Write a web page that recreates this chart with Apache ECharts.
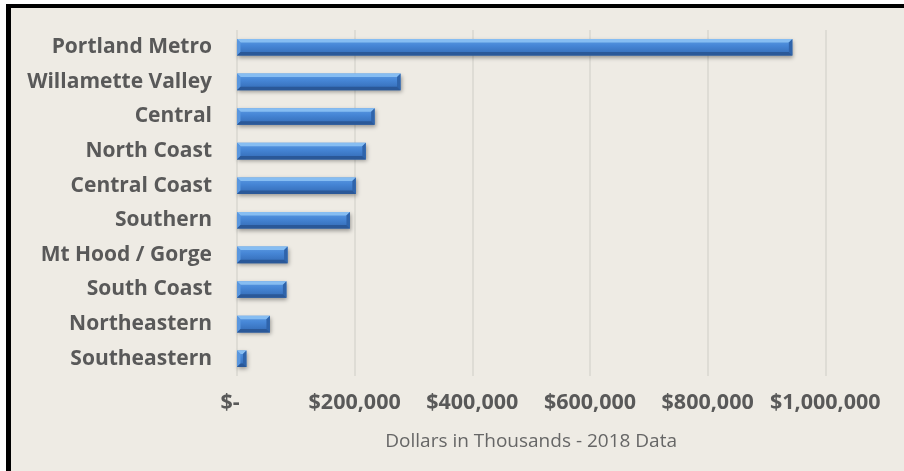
<!DOCTYPE html>
<html>
<head>
<meta charset="utf-8">
<script src="https://cdn.jsdelivr.net/npm/echarts@6/dist/echarts.min.js"></script>
<style>
  html, body { margin: 0; padding: 0; background: #ffffff; }
  #chart { width: 904px; height: 471px; }
</style>
</head>
<body>
<div id="chart"></div>
<script>
// Regional totals, dollars in thousands (2018)
const regions = [
  'Portland Metro', 'Willamette Valley', 'Central', 'North Coast', 'Central Coast',
  'Southern', 'Mt Hood / Gorge', 'South Coast', 'Northeastern', 'Southeastern'
];
const amounts = [944000, 278000, 234000, 219000, 202000, 192000, 86000, 84000, 56000, 16000];
const axisTitle = 'Dollars in Thousands - 2018 Data';
const xMax = 1000000;
const xStep = 200000;

const labelColor = '#595959';
const fontFamily = '"Open Sans", sans-serif';

function moneyLabel(v) {
  if (v === 0) return '{dash|$-}';
  return '$' + v.toLocaleString('en-US');
}

// Bevelled bar: body with vertical gradient plus mitred edge strips
function renderBar(params, api) {
  const val = api.value(0);
  const cat = api.value(1);
  const p0 = api.coord([0, cat]);
  const p1 = api.coord([val, cat]);
  const h = api.size([0, 1])[1] * 0.48;
  const x0 = p0[0], x1 = p1[0];
  const y0 = p0[1] - h / 2, y1 = p0[1] + h / 2;
  const b = Math.min(3.5, (x1 - x0) / 2);
  return {
    type: 'group',
    children: [
      {
        type: 'rect',
        shape: { x: x0, y: y0, width: x1 - x0, height: h },
        style: {
          fill: new echarts.graphic.LinearGradient(0, 0, 0, 1, [
            { offset: 0, color: '#5d9be2' },
            { offset: 0.4, color: '#4686d6' },
            { offset: 1, color: '#3269b3' }
          ]),
          shadowBlur: 4,
          shadowOffsetX: 1,
          shadowOffsetY: 2,
          shadowColor: 'rgba(0,0,0,0.35)'
        }
      },
      {
        type: 'polygon',
        shape: { points: [[x0, y0], [x1, y0], [x1 - b, y0 + b], [x0 + b, y0 + b]] },
        style: { fill: '#86bdf2' }
      },
      {
        type: 'polygon',
        shape: { points: [[x0, y0], [x0 + b, y0 + b], [x0 + b, y1 - b], [x0, y1]] },
        style: { fill: '#5a97df' }
      },
      {
        type: 'polygon',
        shape: { points: [[x1, y0], [x1, y1], [x1 - b, y1 - b], [x1 - b, y0 + b]] },
        style: { fill: '#2f64ab' }
      },
      {
        type: 'polygon',
        shape: { points: [[x0, y1], [x1, y1], [x1 - b, y1 - b], [x0 + b, y1 - b]] },
        style: { fill: '#2a5898' }
      }
    ]
  };
}

const chart = echarts.init(document.getElementById('chart'), null, { renderer: 'canvas' });
chart.setOption({
  backgroundColor: '#ffffff',
  animation: false,
  graphic: [
    { type: 'rect', z: -10, silent: true, shape: { x: 6, y: 4, width: 910, height: 480 }, style: { fill: '#000000' } },
    { type: 'rect', z: -9, silent: true, shape: { x: 11, y: 8, width: 905, height: 475 }, style: { fill: '#eeebe4' } }
  ],
  grid: { left: 237, right: 78.7, top: 30, height: 346, containLabel: false },
  xAxis: {
    type: 'value',
    min: 0,
    max: xMax,
    interval: xStep,
    axisLine: { show: false },
    axisTick: { show: false },
    splitLine: { show: true, lineStyle: { color: '#d9d7d1', width: 1.5 } },
    axisLabel: {
      formatter: moneyLabel,
      color: labelColor,
      fontFamily: fontFamily,
      fontWeight: 'bold',
      fontSize: 21.5,
      margin: 16,
      rich: {
        dash: { color: labelColor, fontFamily: fontFamily, fontWeight: 'bold', fontSize: 21.5, padding: [0, 14, 0, 0] }
      }
    },
    name: axisTitle,
    nameLocation: 'middle',
    nameGap: 56,
    nameTextStyle: { color: '#666666', fontFamily: fontFamily, fontSize: 19 }
  },
  yAxis: {
    type: 'category',
    inverse: true,
    data: regions,
    axisLine: { show: false },
    axisTick: { show: false },
    axisLabel: {
      color: labelColor,
      fontFamily: fontFamily,
      fontWeight: 'bold',
      fontSize: 21,
      margin: 25
    }
  },
  series: [{
    type: 'custom',
    renderItem: renderBar,
    encode: { x: 0, y: 1 },
    data: amounts.map((v, i) => [v, i])
  }]
});
</script>
</body>
</html>
